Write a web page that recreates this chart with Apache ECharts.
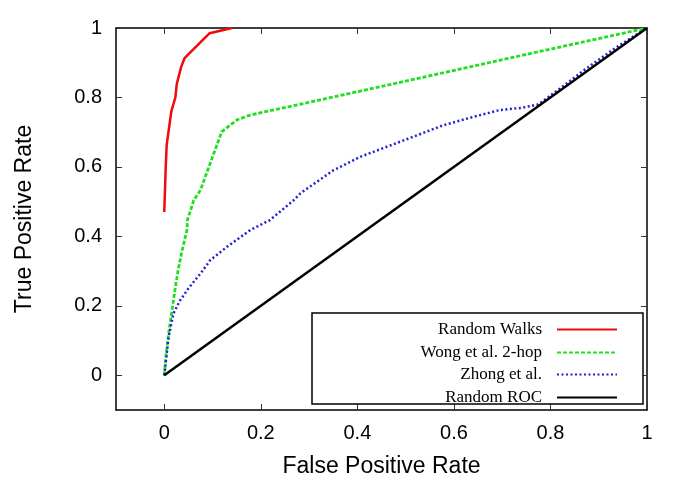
<!DOCTYPE html>
<html>
<head>
<meta charset="utf-8">
<script src="https://cdn.jsdelivr.net/npm/echarts@6/dist/echarts.min.js"></script>
<style>html,body{margin:0;padding:0;background:#fff}#c{width:685px;height:479px}</style>
</head>
<body>
<div id="c"></div>
<script>
const seriesNames = ['Random Walks', 'Wong et al. 2-hop', 'Zhong et al.', 'Random ROC'];
const xTicks = [0, 0.2, 0.4, 0.6, 0.8, 1];
const yTicks = [0, 0.2, 0.4, 0.6, 0.8, 1];

const randomWalks = [
  [0.0, 0.47], [0.003, 0.60], [0.005, 0.663], [0.0145, 0.759], [0.023, 0.80],
  [0.026, 0.84], [0.035, 0.888], [0.042, 0.913], [0.094, 0.985], [0.14, 1.0]
];
const wong2hop = [
  [0, 0], [0.004, 0.063], [0.009, 0.12], [0.016, 0.187], [0.023, 0.254],
  [0.030, 0.312], [0.037, 0.36], [0.047, 0.418], [0.048, 0.447], [0.061, 0.504],
  [0.075, 0.533], [0.095, 0.61], [0.119, 0.701], [0.15, 0.735], [0.175, 0.748],
  [0.2, 0.756], [0.28, 0.78], [0.5, 0.847], [0.75, 0.924], [1, 1]
];
const zhong = [
  [0, 0], [0.009, 0.11], [0.019, 0.178], [0.033, 0.216], [0.05, 0.25],
  [0.075, 0.293], [0.095, 0.331], [0.13, 0.37], [0.178, 0.418], [0.219, 0.447],
  [0.268, 0.504], [0.282, 0.524], [0.35, 0.59], [0.406, 0.629], [0.461, 0.658],
  [0.516, 0.687], [0.578, 0.72], [0.64, 0.744], [0.696, 0.764], [0.74, 0.77],
  [0.775, 0.78], [0.82, 0.826], [0.868, 0.877], [0.937, 0.945], [1, 1]
];
const randomROC = [[0, 0], [1, 1]];

const colors = ['#f00a0a', '#1ee01e', '#2020d0', '#000000'];
const lineTypes = ['solid', [4, 2], [2, 2.5], 'solid'];
const lineWidths = [2.5, 2.8, 2.5, 2.5];
const allData = [randomWalks, wong2hop, zhong, randomROC];

const chart = echarts.init(document.getElementById('c'), null, {renderer: 'canvas'});

const frameLine = {show: true, onZero: false, lineStyle: {color: '#000', width: 1.5}};
const tickStyle = (vals) => ({show: true, inside: true, length: 6, customValues: vals, lineStyle: {color: '#333', width: 1}});
const labelFont = {fontFamily: 'Liberation Sans', fontSize: 20, color: '#000'};
const nameFont = {fontFamily: 'Liberation Sans', fontSize: 23, color: '#000'};

const legendRows = [328, 351, 373, 396];
const legends = seriesNames.map((n, i) => ({
  data: [n],
  orient: 'horizontal',
  align: 'right',
  right: 67,
  top: legendRows[i] - 7,
  padding: 0,
  itemWidth: 60,
  itemHeight: 14,
  selectedMode: false,
  itemStyle: {opacity: 0},
  textStyle: {fontFamily: 'Liberation Serif', fontSize: 17, color: '#000', padding: [0, 10, 0, 0]}
}));

chart.setOption({
  animation: false,
  backgroundColor: '#fff',
  grid: {left: 116, right: 38, top: 28, bottom: 69, containLabel: false, outerBoundsMode: 'none'},
  legend: legends,
  xAxis: [{
    type: 'value', min: -0.1, max: 1, position: 'bottom',
    name: 'False Positive Rate', nameLocation: 'middle', nameGap: 45,
    nameTextStyle: nameFont,
    axisLine: frameLine, splitLine: {show: false},
    axisTick: tickStyle(xTicks),
    axisLabel: Object.assign({customValues: xTicks, margin: 13}, labelFont)
  }, {
    type: 'value', min: -0.1, max: 1, position: 'top',
    axisLine: frameLine, splitLine: {show: false},
    axisTick: tickStyle(xTicks),
    axisLabel: {show: false}
  }],
  yAxis: [{
    type: 'value', min: -0.1, max: 1, position: 'left',
    name: 'True Positive Rate', nameLocation: 'middle', nameGap: 80, nameRotate: 90,
    nameTextStyle: nameFont,
    axisLine: frameLine, splitLine: {show: false},
    axisTick: tickStyle(yTicks),
    axisLabel: Object.assign({customValues: yTicks, margin: 14}, labelFont)
  }, {
    type: 'value', min: -0.1, max: 1, position: 'right',
    axisLine: frameLine, splitLine: {show: false},
    axisTick: tickStyle(yTicks),
    axisLabel: {show: false}
  }],
  graphic: [{
    type: 'rect', z: 1,
    shape: {x: 312, y: 313, width: 331, height: 91},
    style: {fill: '#fff', stroke: '#000', lineWidth: 1.5}
  }],
  series: seriesNames.map((n, i) => ({
    name: n, type: 'line', data: allData[i], symbol: 'none', z: 3,
    lineStyle: {color: colors[i], width: lineWidths[i], type: lineTypes[i]},
    itemStyle: {color: colors[i]}
  }))
});
</script>
</body>
</html>
